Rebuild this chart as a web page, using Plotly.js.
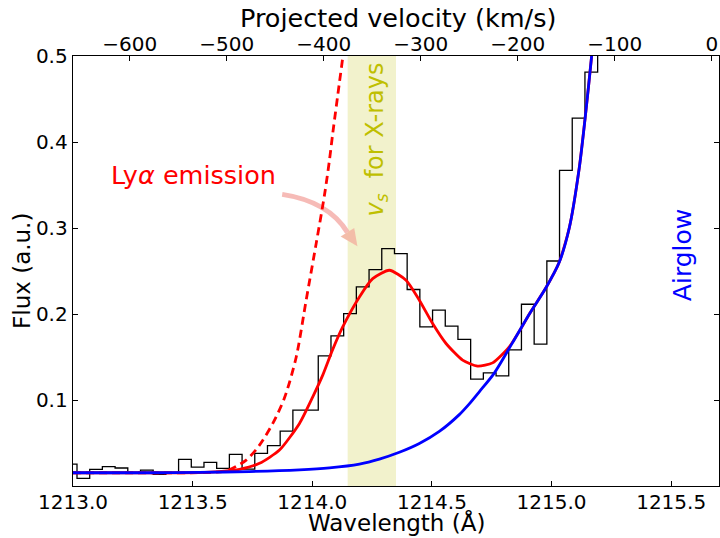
<!DOCTYPE html>
<html>
<head>
<meta charset="utf-8">
<script src="https://cdn.plot.ly/plotly-3.0.1.min.js"></script>
<style>html,body{margin:0;padding:0;background:#fff;}#chart{width:720px;height:538px;}</style>
</head>
<body>
<div id="chart"></div>
<script>
// Observed spectrum: histogram bin edges (Å) and flux per bin (a.u.)
const binEdges = [1212.9636,1213.0167,1213.0698,1213.1228,1213.1759,1213.2290,1213.2821,1213.3351,1213.3882,1213.4413,
  1213.4944,1213.5474,1213.6005,1213.6536,1213.7067,1213.7597,1213.8128,1213.8659,1213.9190,1213.9720,
  1214.0251,1214.0782,1214.1313,1214.1843,1214.2374,1214.2905,1214.3436,1214.3966,1214.4497,1214.5028,
  1214.5559,1214.6089,1214.6620,1214.7151,1214.7682,1214.8212,1214.8743,1214.9274,1214.9805,1215.0335,
  1215.0866,1215.1397,1215.1928,1215.2458,1215.2989,1215.3520];
const binFlux = [0.026,0.0095,0.020,0.023,0.0215,0.016,0.019,0.014,0.016,0.0316,
  0.0226,0.028,0.021,0.0374,0.0203,0.0385,0.0476,0.0644,0.0888,0.0888,
  0.1517,0.1749,0.2009,0.2318,0.2520,0.2763,0.2705,0.2288,0.1854,0.2048,
  0.1862,0.1708,0.1247,0.1320,0.1285,0.1587,0.2117,0.1653,0.2619,0.3672,
  0.4278,0.4812,0.60,0.75,0.90];

// Airglow model (blue)
const airWave = [1213.000,1213.3203,1213.5290,1213.7378,1213.9466,1214.0718,1214.1971,1214.2806,1214.3641,1214.4476,
  1214.5311,1214.6146,1214.6564,1214.6981,1214.7608,1214.8359,1214.9069,1214.9779,1215.0322,1215.0739,
  1215.1157,1215.1449,1215.1658,1215.1741];
const airFlux = [0.0160,0.0160,0.0165,0.0174,0.0194,0.0217,0.0261,0.0319,0.0398,0.0500,
  0.0640,0.0835,0.0960,0.1100,0.1317,0.1665,0.2001,0.2314,0.2604,0.2999,
  0.3695,0.4391,0.4948,0.5180];

// Lya emission + airglow, absorbed (red solid)
const lyaWave = [1213.000,1213.3203,1213.5290,1213.6125,1213.6960,1213.7795,1213.8630,1213.9466,1214.0021,1214.0438,
  1214.0843,1214.1273,1214.1971,1214.2526,1214.3223,1214.3921,1214.4476,1214.5031,1214.5591,1214.6284,
  1214.6910,1214.7537,1214.8234,1214.8722,1214.9069,1214.9779,1215.0322,1215.0739,1215.1157,1215.1449,
  1215.1658,1215.1741];
const lyaFlux = [0.0160,0.0160,0.0162,0.0174,0.0200,0.0269,0.0423,0.0733,0.1042,0.1294,
  0.1584,0.1854,0.2202,0.2415,0.2512,0.2396,0.2164,0.1893,0.1661,0.1468,
  0.1398,0.1436,0.1622,0.1835,0.2001,0.2314,0.2604,0.2999,0.3695,0.4391,
  0.4948,0.5180];

// Intrinsic Lya emission (red dashed)
const intWave = [1213.000,1213.3203,1213.5290,1213.6405,1213.7240,1213.7795,1213.8351,1213.8840,1213.9328,1213.9745,
  1214.0163,1214.0509,1214.0718,1214.0856,1214.1136,1214.1273,1214.1344];
const intFlux = [0.0160,0.0160,0.0162,0.0183,0.0307,0.0481,0.0733,0.1030,0.1502,0.2164,
  0.2821,0.3382,0.3788,0.4101,0.4693,0.4983,0.5180];

// Shaded band: v_s for X-rays (Å)
const bandRange = [1214.148, 1214.350];

// Axis ranges and ticks
const waveRange = [1213.0, 1215.7];
const fluxRange = [0.0006, 0.5];
const waveTicks = [1213.0, 1213.5, 1214.0, 1214.5, 1215.0, 1215.5];
const fluxTicks = [0.1, 0.2, 0.3, 0.4, 0.5];
const velTicks = [-600, -500, -400, -300, -200, -100, 0];
const lambda0 = 1215.67;
const cKms = 299792.458;
const velRange = waveRange.map(w => (w - lambda0) / lambda0 * cKms);

const FONT = 'DejaVu Sans, sans-serif';

const traces = [
  {x: binEdges, y: binFlux.concat([binFlux[binFlux.length-1]]), mode: 'lines',
   line: {shape: 'hv', color: 'black', width: 1.3}, hoverinfo: 'skip', showlegend: false},
  {x: intWave, y: intFlux, mode: 'lines',
   line: {shape: 'spline', smoothing: 0.8, color: '#ff0000', width: 2.8, dash: '8px,5px'}, showlegend: false},
  {x: lyaWave, y: lyaFlux, mode: 'lines',
   line: {shape: 'spline', smoothing: 0.6, color: '#ff0000', width: 2.8}, showlegend: false},
  {x: airWave, y: airFlux, mode: 'lines',
   line: {shape: 'spline', smoothing: 0.8, color: '#0000ff', width: 2.8}, showlegend: false},
  {x: velRange, y: [null, null], xaxis: 'x2', yaxis: 'y', mode: 'lines', showlegend: false, hoverinfo: 'skip'}
];

// arrow (curved) in data coordinates
const arrowStart = [1213.8743, 0.3393], arrowCtrl = [1214.0677, 0.3312], arrowEnd = [1214.1470, 0.2952];
const headA = [1214.1186, 0.2904], headB = [1214.1754, 0.3001], headTip = [1214.1887, 0.2790];

const layout = {
  width: 720, height: 538,
  margin: {l: 73, r: 1, t: 56, b: 52, pad: 0},
  paper_bgcolor: 'white', plot_bgcolor: 'white',
  font: {family: FONT, color: 'black', size: 20},
  showlegend: false,
  xaxis: {
    range: waveRange, tickvals: waveTicks, ticktext: waveTicks.map(v => v.toFixed(1)),
    ticks: 'inside', ticklen: 5, tickwidth: 1, tickcolor: 'black',
    showline: true, linecolor: 'black', linewidth: 1.3, mirror: true,
    showgrid: false, zeroline: false, ticklabelstandoff: -2,
    tickfont: {family: FONT, size: 20, color: 'black'},
    automargin: false
  },
  xaxis2: {
    overlaying: 'x', side: 'top', anchor: 'y', range: velRange, tickvals: velTicks,
    ticks: 'inside', ticklen: 5, tickwidth: 1, tickcolor: 'black',
    showline: false, showgrid: false, zeroline: false,
    tickfont: {family: FONT, size: 20, color: 'black'},
    automargin: false
  },
  yaxis: {
    range: fluxRange, tickvals: fluxTicks, ticktext: fluxTicks.map(v => v.toFixed(1)),
    ticks: 'inside', ticklen: 5, tickwidth: 1, tickcolor: 'black',
    showline: true, linecolor: 'black', linewidth: 1.3, mirror: 'ticks',
    showgrid: false, zeroline: false,
    tickfont: {family: FONT, size: 20, color: 'black'},
    automargin: false
  },
  shapes: [
    {type: 'rect', xref: 'x', yref: 'y domain', x0: bandRange[0], x1: bandRange[1], y0: 0, y1: 1,
     fillcolor: 'rgba(191,191,0,0.2)', line: {width: 0}, layer: 'below'},
    {type: 'path', xref: 'x', yref: 'y', layer: 'below',
     path: `M ${arrowStart[0]},${arrowStart[1]} Q ${arrowCtrl[0]},${arrowCtrl[1]} ${arrowEnd[0]},${arrowEnd[1]}`,
     line: {color: 'rgba(245,175,170,0.85)', width: 5}},
    {type: 'path', xref: 'x', yref: 'y', layer: 'below',
     path: `M ${headA[0]},${headA[1]} L ${headTip[0]},${headTip[1]} L ${headB[0]},${headB[1]} Z`,
     fillcolor: 'rgba(242,185,165,0.95)', line: {width: 0}}
  ],
  annotations: [
    {xref: 'paper', yref: 'paper', x: 0.503, y: 1.089, yanchor: 'middle', text: 'Projected velocity (km/s)',
     showarrow: false, font: {family: FONT, size: 25.5, color: 'black'}},
    {xref: 'paper', yref: 'paper', x: 0.5, y: -0.084, yanchor: 'middle', text: 'Wavelength (Å)',
     showarrow: false, font: {family: FONT, size: 23, color: 'black'}},
    {xref: 'paper', yref: 'paper', x: -0.079, y: 0.5, xanchor: 'center', yanchor: 'middle', textangle: -90,
     text: 'Flux (a.u.)', showarrow: false, font: {family: FONT, size: 23, color: 'black'}},
    {xref: 'x', yref: 'y', x: 1213.502, y: 0.3614, text: 'Ly<i>α</i> emission', showarrow: false,
     font: {family: FONT, size: 25.5, color: '#ff0000'}},
    {xref: 'x', yref: 'y', x: 1214.267, y: 0.4031, text: '<i>v</i><sub><i>s</i></sub>  for X-rays', showarrow: false,
     textangle: -90, font: {family: FONT, size: 24, color: '#bfbf00'}},
    {xref: 'x', yref: 'y', x: 1215.545, y: 0.2686, text: 'Airglow', showarrow: false,
     textangle: -90, font: {family: FONT, size: 25, color: '#0000ff'}}
  ]
};

Plotly.newPlot('chart', traces, layout, {staticPlot: true, displayModeBar: false});
</script>
</body>
</html>
